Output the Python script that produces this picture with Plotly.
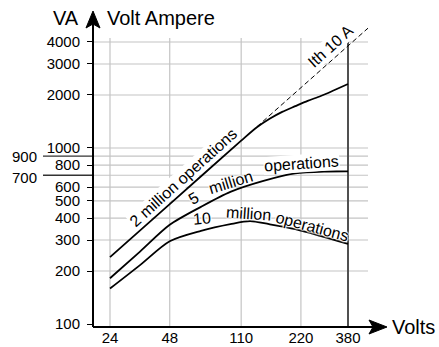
import plotly.graph_objects as go

# --- data -----------------------------------------------------------------
volts_ticks = [24, 48, 110, 220, 380]
va_ticks = [100, 200, 300, 400, 500, 600, 800, 1000, 2000, 3000, 4000]
va_side_marks = [700, 900]
va_grid = [200, 300, 400, 500, 600, 700, 800, 900, 1000, 2000, 3000, 4000]
volts_grid = [24, 48, 110, 220]
volts_limit = 380

# 2 million operations
v_2m = [24, 48, 110, 132, 153, 177, 206, 238, 277, 321, 380]
va_2m = [240, 480, 1100, 1310, 1465, 1604, 1728, 1852, 1973, 2120, 2310]
# 5 million operations
v_5m = [24, 34, 48, 69, 97, 141, 206, 296, 380]
va_5m = [182, 258, 366, 463, 563, 648, 717, 735, 737]
# 10 million operations
v_10m = [24, 34, 48, 69, 97, 122, 152, 206, 275, 380]
va_10m = [159, 216, 295, 338, 369, 384, 369, 346, 317, 285]
# thermal current limit Ith = 10 A  (VA = 10 * V)
ith_v = [132, 480]
ith_va = [10 * v for v in ith_v]

# --- geometry of the plot box (pixels) ------------------------------------
W, H = 439, 347
L, R, T, B = 93, 368, 20, 327


def px_x(p):
    return (p - L) / (R - L)


def px_y(p):
    return (B - p) / (B - T)


FONT = "Liberation Sans, Arial, Helvetica, sans-serif"
GRID = "#c4c4c4"
HALO = ", ".join(["0px 0px 2px white"] * 6)

fig = go.Figure()

for xs, ys in [(v_2m, va_2m), (v_5m, va_5m), (v_10m, va_10m)]:
    fig.add_trace(go.Scatter(
        x=xs, y=ys, mode="lines",
        line=dict(color="black", width=1.8, shape="spline", smoothing=0.8),
        hoverinfo="skip", showlegend=False))

fig.add_trace(go.Scatter(
    x=ith_v, y=ith_va, mode="lines",
    line=dict(color="black", width=1, dash="5px,3px"),
    hoverinfo="skip", showlegend=False))

shapes = []
# horizontal grid
for v in va_grid:
    shapes.append(dict(type="line", xref="paper", yref="y", x0=0, x1=1,
                       y0=v, y1=v, line=dict(color=GRID, width=1.2),
                       layer="below"))
# vertical grid
for v in volts_grid:
    shapes.append(dict(type="line", xref="x", yref="paper", x0=v, x1=v,
                       y0=0, y1=px_y(38), line=dict(color=GRID, width=1.2),
                       layer="below"))
shapes.append(dict(type="line", xref="x", yref="paper", x0=volts_limit,
                   x1=volts_limit, y0=0, y1=px_y(38),
                   line=dict(color="#505050", width=2), layer="below"))
# long marks for 700 / 900
for v in va_side_marks:
    shapes.append(dict(type="line", xref="paper", yref="y", x0=px_x(43),
                       x1=0, y0=v, y1=v, line=dict(color="#333333", width=1.3)))
# axes with arrow heads
shapes.append(dict(type="line", xref="paper", yref="paper", x0=0, x1=0,
                   y0=0, y1=px_y(20), line=dict(color="black", width=2)))
shapes.append(dict(type="line", xref="paper", yref="paper", x0=0,
                   x1=px_x(375), y0=0, y1=0, line=dict(color="black", width=2)))


def path(points):
    s = "M " + " L ".join(f"{px_x(x):.4f},{px_y(y):.4f}" for x, y in points)
    return s + " Z"


shapes.append(dict(type="path", xref="paper", yref="paper",
                   path=path([(93, 11), (100, 28), (93, 24), (86, 28)]),
                   fillcolor="black", line=dict(color="black", width=1)))
shapes.append(dict(type="path", xref="paper", yref="paper",
                   path=path([(387, 327), (369, 320), (373, 327), (369, 334)]),
                   fillcolor="black", line=dict(color="black", width=1)))

annotations = []


def label(text, x, y, angle=0, size=16, xanchor="center", bg=None, halo=False):
    font = dict(family=FONT, size=size, color="black")
    if halo:
        font["shadow"] = HALO
    annotations.append(dict(
        text=text, xref="paper", yref="paper", x=px_x(x), y=px_y(y),
        xanchor=xanchor, yanchor="middle", showarrow=False,
        textangle=angle, font=font, bgcolor=bg, borderpad=0))


label("VA", 52, 18, size=20, xanchor="left")
label("Volt Ampere", 106, 18, size=20, xanchor="left")
label("Volts", 391, 327, size=20, xanchor="left")
label("900", 11, 156, size=15, xanchor="left")
label("700", 11, 177, size=15, xanchor="left")

label("2 million operations", 183, 177, angle=-42, bg="white")
label("5", 193, 198, angle=-30, halo=True)
label("million", 230, 182, angle=-17, halo=True)
label("operations", 301, 163, angle=-4, bg="white")
label("10", 202, 218, angle=-5, halo=True)
label("million", 248, 213, angle=4, halo=True)
label("operations", 312, 226, angle=15, halo=True)
label("Ith 10 A", 330, 46, angle=-42, bg="white")

fig.update_layout(
    width=W, height=H,
    margin=dict(l=L, r=W - R, t=T, b=H - B, pad=0, autoexpand=False),
    paper_bgcolor="white", plot_bgcolor="white",
    shapes=shapes, annotations=annotations,
    font=dict(family=FONT, size=15, color="black"),
    xaxis=dict(type="log", range=[1.2945, 2.6806], tickvals=volts_ticks,
               ticktext=[str(v) for v in volts_ticks], showgrid=False,
               zeroline=False, showline=False, ticks="", automargin=False,
               ticklabelstandoff=0,
               tickfont=dict(family=FONT, size=15, color="black")),
    yaxis=dict(type="log", range=[1.983, 3.727], tickvals=va_ticks,
               ticktext=[str(v) for v in va_ticks], showgrid=False,
               zeroline=False, showline=False, ticks="outside", ticklen=5,
               tickwidth=1.3, tickcolor="black", ticklabelstandoff=4,
               automargin=False,
               tickfont=dict(family=FONT, size=15, color="black")),
)

fig.write_html("out.html")
